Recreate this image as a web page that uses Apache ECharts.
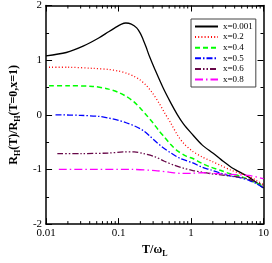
<!DOCTYPE html>
<html><head><meta charset="utf-8">
<script src="https://cdn.jsdelivr.net/npm/echarts@6/dist/echarts.min.js"></script>
<style>html,body{margin:0;padding:0;background:#fff}#c{width:272px;height:263px}</style>
</head><body><div id="c"></div>
<script>
// series names
const names = ['x=0.001','x=0.2','x=0.4','x=0.5','x=0.6','x=0.8'];
// T/omega_L values and R_H ratio for each curve
const t0 = [0.01,0.019,0.033,0.054,0.073,0.089,0.11,0.126,0.15,0.178,0.2,0.218,0.24,0.265,0.32,0.41,0.53,0.65,0.79,1.0,1.42,2,2.6,3.5,4.7,6.3,8,10];
const v0 = [1.08,1.14,1.26,1.41,1.52,1.59,1.66,1.68,1.66,1.59,1.49,1.38,1.24,1.08,0.82,0.5,0.21,0.0,-0.17,-0.33,-0.55,-0.7,-0.82,-0.95,-1.05,-1.14,-1.24,-1.34];
const t1 = [0.011,0.02,0.044,0.073,0.1,0.13,0.16,0.197,0.24,0.29,0.36,0.43,0.53,0.65,0.8,1.06,1.42,2,2.6,3.5,4.7,6.3,8,10];
const v1 = [0.87,0.87,0.85,0.83,0.8,0.76,0.71,0.64,0.54,0.41,0.22,0.04,-0.16,-0.37,-0.53,-0.67,-0.77,-0.86,-0.93,-1.01,-1.07,-1.13,-1.2,-1.28];
const t2 = [0.011,0.02,0.044,0.073,0.1,0.13,0.162,0.2,0.24,0.3,0.36,0.43,0.53,0.65,0.87,1.06,1.42,1.9,2.6,3.5,4.7,6.3,8,10];
const v2 = [0.53,0.53,0.52,0.47,0.41,0.33,0.24,0.12,0.0,-0.15,-0.29,-0.41,-0.55,-0.66,-0.76,-0.8,-0.89,-0.96,-1.02,-1.08,-1.12,-1.19,-1.25,-1.31];
const t3 = [0.0135,0.03,0.054,0.073,0.1,0.13,0.17,0.22,0.27,0.32,0.4,0.53,0.71,1.06,1.42,1.9,2.6,3.5,4.7,6.3,8,10];
const v3 = [0.0,-0.01,-0.03,-0.06,-0.1,-0.15,-0.21,-0.29,-0.39,-0.48,-0.59,-0.7,-0.8,-0.88,-0.96,-1.01,-1.07,-1.12,-1.15,-1.2,-1.26,-1.34];
const t4 = [0.0143,0.03,0.073,0.12,0.164,0.22,0.32,0.43,0.58,0.8,1.06,1.42,1.9,2.6,3.5,4.7,6.3,8,10];
const v4 = [-0.71,-0.71,-0.7,-0.68,-0.68,-0.71,-0.77,-0.85,-0.92,-0.98,-1.02,-1.05,-1.08,-1.1,-1.12,-1.14,-1.18,-1.23,-1.29];
const t5 = [0.015,0.05,0.15,0.32,0.5,0.7,1.0,1.42,2,3.5,6.3,10];
const v5 = [-1.0,-1.0,-1.0,-1.02,-1.05,-1.07,-1.07,-1.06,-1.07,-1.09,-1.11,-1.17];
// axis ticks
const xTickLabels = ['0.01','0.1','1','10'];
const xMinorTicks = [0.02,0.03,0.04,0.05,0.06,0.07,0.08,0.09,0.2,0.3,0.4,0.5,0.6,0.7,0.8,0.9,2,3,4,5,6,7,8,9];
const yTickLabels = ['-2','-1','0','1','2'];

const FONT = 'Liberation Serif';
const ts = [t0,t1,t2,t3,t4,t5];
const vs = [v0,v1,v2,v3,v4,v5];
const colors = ['#000000','#ff0000','#00ff00','#0000ff','#670748','#ff00ff'];
const dashes = ['solid',[1,2.2],[5,3],[6,2,1.5,2],[6,2,1.5,2,1.5,2],[8,3,1.5,3]];
const widths = [1.3,1.3,1.5,1.3,1.3,1.3];

const series = names.map((n,i)=>({
  name:n, type:'line', symbol:'none', smooth:0.3,
  data: ts[i].map((t,j)=>[t, vs[i][j]]),
  lineStyle:{color:colors[i], width:widths[i], type:dashes[i]},
  itemStyle:{color:colors[i]},
  clip:true, z:3
}));
series.push({
  type:'custom', silent:true, z:5,
  data: xMinorTicks.map(v=>[v]),
  renderItem:(params, api)=>{
    const b = api.coord([api.value(0), -2]);
    const t = api.coord([api.value(0), 2]);
    return {type:'group', children:[
      {type:'line', shape:{x1:b[0],y1:b[1],x2:b[0],y2:b[1]-3}, style:{stroke:'#000',lineWidth:1}},
      {type:'line', shape:{x1:t[0],y1:t[1],x2:t[0],y2:t[1]+3}, style:{stroke:'#000',lineWidth:1}}
    ]};
  }
});

const axisLine = {show:true, onZero:false, lineStyle:{color:'#000', width:1.5}};
const chart = echarts.init(document.getElementById('c'), null, {renderer:'canvas'});
chart.setOption({
  animation:false,
  backgroundColor:'#fff',
  grid:{left:33, right:6, top:4, bottom:31, containLabel:false},
  legend:{
    orient:'vertical', left:191, top:19,
    data:names,
    itemWidth:23, itemHeight:8, itemGap:1.6, padding:[3,3,3,3], itemTextGap:6,
    borderColor:'#444', borderWidth:1, backgroundColor:'#fff',
    itemStyle:{opacity:0},
    textStyle:{fontFamily:FONT, fontSize:9, color:'#000', lineHeight:8}
  },
  xAxis:[{
    type:'log', logBase:10, min:0.01, max:10,
    axisLine:axisLine,
    axisTick:{show:true, inside:true, length:6, lineStyle:{color:'#000', width:1}},
    axisLabel:{fontFamily:FONT, fontSize:11, color:'#000', margin:4,
      formatter:(v)=>{ const e = Math.round(Math.log10(v)); return xTickLabels[e+2]; }},
    splitLine:{show:false},
    name:'{b|T/ω}{s|L}', nameLocation:'middle', nameGap:14,
    nameTextStyle:{fontFamily:FONT, fontWeight:'bold', fontSize:12, color:'#000',
      rich:{b:{fontFamily:FONT, fontWeight:'bold', fontSize:12, lineHeight:16, color:'#000'},
            s:{fontFamily:FONT, fontWeight:'bold', fontSize:8, lineHeight:8, verticalAlign:'bottom', color:'#000'}}}
  },{
    type:'log', logBase:10, min:0.01, max:10, position:'top',
    axisLine:axisLine,
    axisTick:{show:true, inside:true, length:6, lineStyle:{color:'#000', width:1}},
    axisLabel:{show:false}, splitLine:{show:false}
  }],
  yAxis:[{
    type:'value', min:-2, max:2, interval:1,
    axisLine:axisLine,
    axisTick:{show:true, inside:true, length:6, lineStyle:{color:'#000', width:1}},
    minorTick:{show:true, splitNumber:2, length:3, lineStyle:{color:'#000', width:1}},
    axisLabel:{fontFamily:FONT, fontSize:11, color:'#000', margin:4,
      formatter:(v)=>yTickLabels[Math.round(v)+2]},
    splitLine:{show:false}, minorSplitLine:{show:false},
    name:'{b|R}{s|H}{b|(T)/R}{s|H}{b|(T=0,x=1)}', nameLocation:'middle', nameGap:21, nameRotate:90,
    nameTextStyle:{fontFamily:FONT, fontWeight:'bold', fontSize:12, color:'#000',
      rich:{b:{fontFamily:FONT, fontWeight:'bold', fontSize:12, lineHeight:16, color:'#000'},
            s:{fontFamily:FONT, fontWeight:'bold', fontSize:8, lineHeight:8, verticalAlign:'bottom', color:'#000'}}}
  },{
    type:'value', min:-2, max:2, interval:1, position:'right',
    axisLine:axisLine,
    axisTick:{show:true, inside:true, length:6, lineStyle:{color:'#000', width:1}},
    minorTick:{show:true, splitNumber:2, length:3, lineStyle:{color:'#000', width:1}},
    axisLabel:{show:false}, splitLine:{show:false}
  }],
  series:series
});
</script></body></html>
